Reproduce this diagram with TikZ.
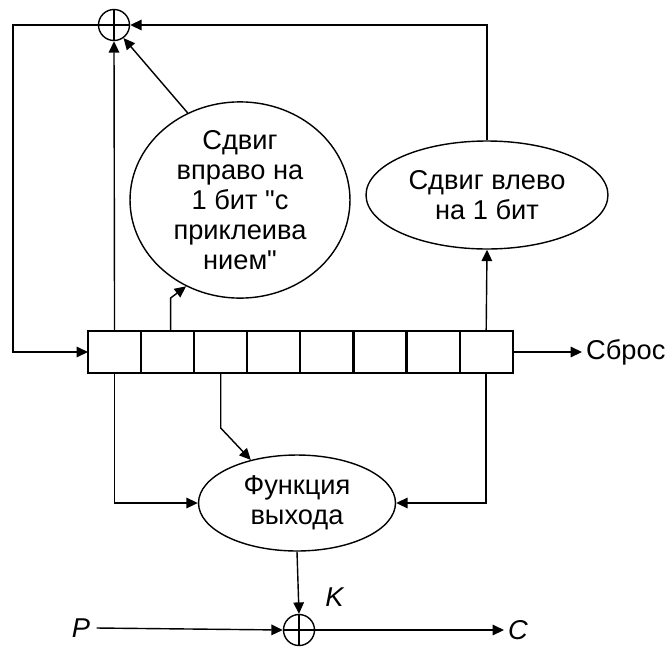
\documentclass[tikz,border=0pt]{standalone}
\usepackage{fontspec}
\setmainfont{Liberation Sans}
\usepackage{tikz}
\usetikzlibrary{positioning,shapes.geometric,arrows.meta}

\begin{document}
\begin{tikzpicture}[x=0.02cm,y=-0.02cm,line width=0.8pt,
  every node/.style={font=\fontsize{15.5}{17}\selectfont},
  arr/.style={-{Triangle[length=6.5pt,width=6pt]}},
  cell/.style={draw,line width=1.2pt,outer sep=0pt,inner sep=0pt,minimum width=1.062cm,minimum height=0.84cm},
  oval/.style={draw,ellipse,inner sep=0pt,align=center},
  xorc/.style={draw,circle,inner sep=0pt,minimum size=0.62cm,
    path picture={\draw (path picture bounding box.north) -- (path picture bounding box.south)
      (path picture bounding box.west) -- (path picture bounding box.east);}}]
\useasboundingbox (0,0) rectangle (665,646);
% adders
\node[xorc] (xtop) at (114,25) {};
\node[xorc] (xbot) at (299,630) {};
% shift blocks
\node[oval,minimum width=4.4cm,minimum height=3.48cm] (shr) at (240,200)
  {Сдвиг\\вправо на\\1 бит \textquotedbl с\\приклеива\\нием\textquotedbl};
\node[oval,minimum width=4.84cm,minimum height=2.16cm] (shl) at (487,195)
  {Сдвиг влево\\на 1 бит};
\node[oval,minimum width=3.94cm,minimum height=1.92cm] (fn) at (297,503)
  {Функция\\выхода};
% register
\node[cell,anchor=west] (c1) at (88,352) {};
\node[cell,right=0pt of c1] (c2) {};
\node[cell,right=0pt of c2] (c3) {};
\node[cell,right=0pt of c3] (c4) {};
\node[cell,right=0pt of c4] (c5) {};
\node[cell,right=0pt of c5] (c6) {};
\node[cell,right=0pt of c6] (c7) {};
\node[cell,right=0pt of c7] (c8) {};
% labels
\node[anchor=west,inner sep=2pt] (reset) at (582,352) {Сброс};
\node (P) at (81,628) {\textit{P}};
\node[anchor=west,inner sep=2pt] (C) at (504,630) {\textit{C}};
\node (K) at (335,597) {\textit{K}};
\coordinate (fbl) at (13,25);
% connectors
\draw[arr] (xtop.west) -- (fbl) |- (c1.west);
\draw[arr] (c1.north) -- (xtop.south);
\draw[arr] (c2.north) ++(3,0) -- ++(0,-33) -- (shr.238);
\draw[arr] (shr.121) -- (xtop.-54);
\draw[arr] (c8.north) -- (shl.south);
\draw[arr] (shl.north) |- (xtop.east);
\draw[arr] (c8.east) -- (reset.west);
\draw[arr] (c1.south) |- (fn.west);
\draw[arr] (c3.south) -- ++(0,55) -- (fn.137);
\draw[arr] (c8.south) |- (fn.east);
\draw[arr] (fn.south) -- (xbot.north);
\draw[arr] (P.east) -- (xbot.west);
\draw[arr] (xbot.east) -- (C.west);
\end{tikzpicture}
\end{document}
